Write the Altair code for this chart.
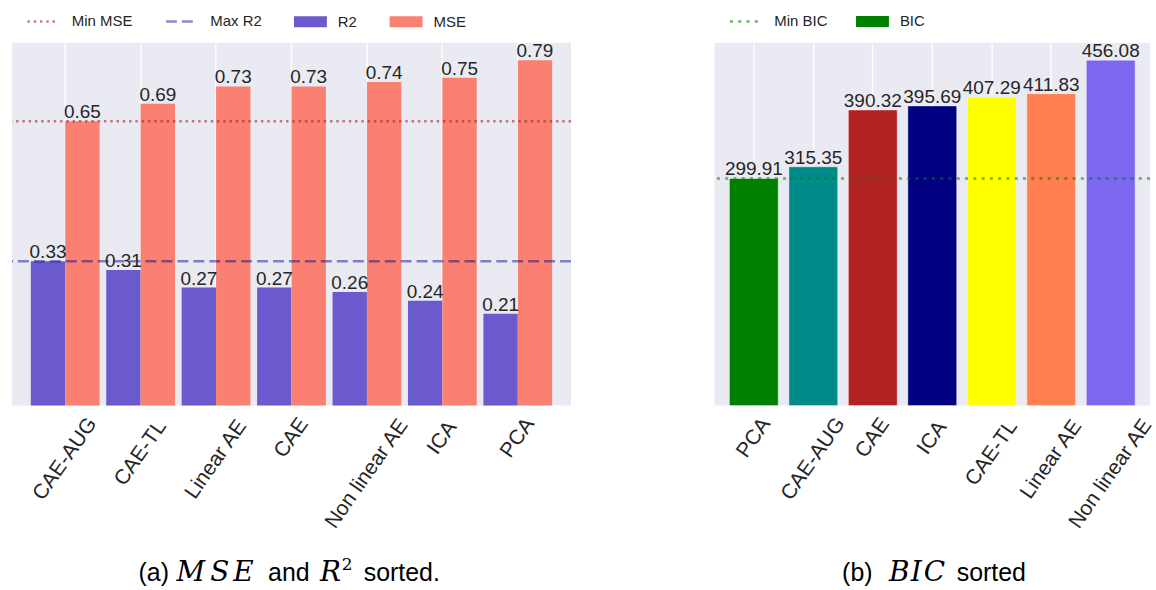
import altair as alt
import pandas as pd

# ---- panel (a): R2 and MSE per method, sorted by MSE ----
methods_a = ["CAE-AUG", "CAE-TL", "Linear AE", "CAE", "Non linear AE", "ICA", "PCA"]
r2_vals = [0.33, 0.31, 0.27, 0.27, 0.26, 0.24, 0.21]
mse_vals = [0.65, 0.69, 0.73, 0.73, 0.74, 0.75, 0.79]

# ---- panel (b): BIC per method, sorted ----
methods_b = ["PCA", "CAE-AUG", "CAE", "ICA", "CAE-TL", "Linear AE", "Non linear AE"]
bic_vals = [299.91, 315.35, 390.32, 395.69, 407.29, 411.83, 456.08]
bic_colors = ["#008000", "#008b8b", "#b22222", "#000080", "#ffff00", "#ff7f50", "#7b68ee"]

TEXT = "#262626"
FONT = "Liberation Sans"
MATH = "DejaVu Serif"
W_A, W_B, H = 561, 437, 364
TICK_FS = 21
RECT = "M-1,-0.333L1,-0.333L1,0.333L-1,0.333Z"
LEG_Y = -38

long_a = pd.DataFrame({
    "method": methods_a * 2,
    "metric": ["R2"] * len(methods_a) + ["MSE"] * len(methods_a),
    "value": r2_vals + mse_vals,
})
bic_df = pd.DataFrame({"method": methods_b, "value": bic_vals})


def x_enc(methods, pad_inner):
    return alt.X("method:N", sort=methods, title=None,
                 scale=alt.Scale(paddingInner=pad_inner, paddingOuter=0.25),
                 axis=alt.Axis(grid=True, gridColor="white", gridWidth=1.3,
                               labels=False, ticks=False, domain=False,
                               bandPosition=0.5, title=None))


def y_enc(top):
    return alt.Y("value:Q", scale=alt.Scale(domain=[0, top], nice=False, zero=True),
                 axis=None)


def box_legend(x, **kw):
    return alt.Legend(orient="none", legendX=x, legendY=LEG_Y, direction="horizontal",
                      title=None, symbolType=RECT, symbolSize=1089,
                      symbolStrokeWidth=0, labelFont=FONT, labelFontSize=15,
                      labelColor=TEXT, labelOffset=11, columnPadding=32, padding=0, **kw)


def guide_line(name, value, y, color, dash, width, legend_x):
    # one horizontal reference line with its own dash legend entry
    df = pd.DataFrame({"name": [name], "value": [value]})
    return alt.Chart(df).mark_rule(strokeWidth=width, stroke=color).encode(
        y=y,
        strokeDash=alt.StrokeDash(
            "name:N", scale=alt.Scale(domain=[name], range=[dash]),
            legend=alt.Legend(orient="none", legendX=legend_x, legendY=LEG_Y,
                              direction="horizontal", title=None, symbolType="stroke",
                              symbolSize=900, symbolStrokeWidth=width,
                              symbolStrokeColor=color, labelFont=FONT,
                              labelFontSize=15, labelColor=TEXT, labelOffset=13,
                              padding=0)),
    )


def tick_labels(methods, xe):
    # rotated category labels whose bounding box is centred under each band;
    # text width is estimated from the count of capitals and other characters
    return alt.Chart(pd.DataFrame({"method": methods})).transform_calculate(
        nu="length(replace(datum.method, regexp('[^A-Z]', 'g'), ''))"
    ).transform_calculate(
        tw=f"(datum.nu * 0.68 + (length(datum.method) - datum.nu) * 0.42) * {TICK_FS}"
    ).transform_calculate(
        ty=f"{H} + 8 + (datum.tw * sin(55 * PI / 180) + {TICK_FS * 1.15} * cos(55 * PI / 180)) / 2"
    ).mark_text(angle=305, align="center", baseline="middle", font=FONT,
                fontSize=TICK_FS, color=TEXT).encode(
        x=xe, y=alt.Y("ty:Q", scale=None), text="method:N")


def caption(pieces, y):
    layers = []
    for txt, x, font, size, style, dy in pieces:
        layers.append(
            alt.Chart(pd.DataFrame({"t": [txt]})).mark_text(
                align="left", baseline="alphabetic", font=font, fontSize=size,
                fontStyle=style, color="black").encode(
                x=alt.value(x), y=alt.value(y + dy), text="t:N"))
    return layers


# ---------------- panel (a) ----------------
xa = x_enc(methods_a, 0.0885)
ya = y_enc(max(mse_vals) * 1.05)

bars_a = alt.Chart(long_a).mark_bar().encode(
    x=xa,
    xOffset=alt.XOffset("metric:N", sort=["R2", "MSE"]),
    y=ya,
    color=alt.Color("metric:N",
                    scale=alt.Scale(domain=["R2", "MSE"], range=["#6a5acd", "#fa8072"]),
                    legend=box_legend(283)),
)

min_mse = guide_line("Min MSE", min(mse_vals), ya, "rgba(165,42,42,0.6)", [2.5, 3.8], 2.5, 14)
max_r2 = guide_line("Max R2", max(r2_vals), ya, "rgba(0,0,128,0.45)", [11, 5], 2.5, 153)

vals_a = alt.Chart(long_a).mark_text(baseline="alphabetic", dy=-3, font=FONT,
                                     fontSize=19, color=TEXT).encode(
    x=xa,
    xOffset=alt.XOffset("metric:N", sort=["R2", "MSE"]),
    y=ya,
    text=alt.Text("value:Q", format=".2f"),
)

cap_a = caption([
    ("(a)", 127, FONT, 25, "normal", 0),
    ("M", 165, MATH, 28, "italic", 0),
    ("S", 199, MATH, 28, "italic", 0),
    ("E", 222, MATH, 28, "italic", 0),
    ("and", 257, FONT, 25, "normal", 0),
    ("R", 309, MATH, 28, "italic", 0),
    ("2", 331, MATH, 17, "normal", -11),
    ("sorted.", 353, FONT, 25, "normal", 0),
], H + 176)

panel_a = alt.layer(bars_a, min_mse, max_r2, vals_a, tick_labels(methods_a, xa),
                    *cap_a).resolve_scale(
    color="independent", strokeDash="independent").properties(width=W_A, height=H)

# ---------------- panel (b) ----------------
xb = x_enc(methods_b, 0.179)
yb = y_enc(max(bic_vals) * 1.05)

bars_b = alt.Chart(bic_df).mark_bar(stroke="white", strokeWidth=1, strokeOpacity=0.45).encode(
    x=xb,
    y=yb,
    color=alt.Color("method:N",
                    scale=alt.Scale(domain=methods_b, range=bic_colors),
                    legend=box_legend(142, values=["PCA"], labelExpr="'BIC'")),
)

min_bic = guide_line("Min BIC", min(bic_vals), yb, "rgba(0,128,0,0.5)", [3, 5.3], 3, 14)

vals_b = alt.Chart(bic_df).mark_text(baseline="alphabetic", dy=-3, font=FONT,
                                     fontSize=19, color=TEXT).encode(
    x=xb,
    y=yb,
    text=alt.Text("value:Q", format=".2f"),
)

cap_b = caption([
    ("(b)", 128, FONT, 25, "normal", 0),
    ("B", 175, MATH, 28, "italic", 0),
    ("I", 197, MATH, 28, "italic", 0),
    ("C", 210, MATH, 28, "italic", 0),
    ("sorted", 243, FONT, 25, "normal", 0),
], H + 176)

panel_b = alt.layer(bars_b, min_bic, vals_b, tick_labels(methods_b, xb), *cap_b).resolve_scale(
    color="independent", strokeDash="independent").properties(width=W_B, height=H)

chart = alt.hconcat(panel_a, panel_b, spacing=144, bounds="flush").resolve_scale(
    color="independent", strokeDash="independent", x="independent", y="independent"
).properties(
    padding={"left": 10, "top": 4, "right": 0, "bottom": 0},
    background="white",
).configure_view(fill="#EAEAF2", strokeWidth=0)

chart.save("out.html", embed_options={"renderer": "svg", "actions": False})
